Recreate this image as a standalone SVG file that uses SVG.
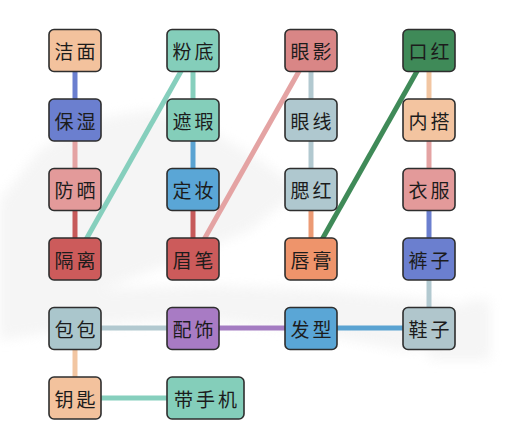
<svg xmlns="http://www.w3.org/2000/svg" width="520" height="429" viewBox="0 0 520 429">
<defs>
<filter id="blur" x="-20%" y="-20%" width="140%" height="140%"><feGaussianBlur stdDeviation="6"/></filter>
<style>
.n rect{stroke:#2e2e2e;stroke-width:1.6}
.n text{font-family:"Noto Sans CJK SC","Noto Sans CJK TC",sans-serif;font-size:19px;fill:#1c1c1c;text-anchor:middle;dominant-baseline:central;letter-spacing:3px}
.c line{stroke-width:5;stroke-linecap:butt}
</style>
</defs>
<rect width="520" height="429" fill="#ffffff"/>
<g id="background" filter="url(#blur)" fill="#f1f1f1" opacity="0.7">
<path d="M0 200 L40 150 L90 120 L150 110 L210 130 L260 160 L300 190 L250 230 L180 260 L100 290 L40 300 L0 300 Z"/>
<path d="M0 300 L80 290 L200 285 L320 290 L430 300 L490 310 L480 345 L400 350 L300 330 L200 320 L100 325 L0 340 Z"/>
<path d="M420 330 L470 300 L490 300 L490 360 L430 360 Z"/>
</g>
<g id="connectors" class="c">
<line x1="75" y1="50" x2="75" y2="120" stroke="#6b7fcf"/>
<line x1="75" y1="120" x2="75" y2="189" stroke="#e4a3a3"/>
<line x1="75" y1="189" x2="75" y2="259" stroke="#c65a5a"/>
<line x1="193" y1="50" x2="193" y2="120" stroke="#86cfbd"/>
<line x1="193" y1="120" x2="193" y2="189" stroke="#5aa3d2"/>
<line x1="193" y1="189" x2="193" y2="259" stroke="#c65a5a"/>
<line x1="193" y1="50" x2="75" y2="259" stroke="#86cfbd"/>
<line x1="311" y1="50" x2="311" y2="120" stroke="#b2c9d0"/>
<line x1="311" y1="120" x2="311" y2="189" stroke="#b2c9d0"/>
<line x1="311" y1="189" x2="311" y2="259" stroke="#ec9a74"/>
<line x1="311" y1="50" x2="193" y2="259" stroke="#e4a3a3"/>
<line x1="429" y1="50" x2="429" y2="120" stroke="#f2c6a2"/>
<line x1="429" y1="120" x2="429" y2="189" stroke="#e4a3a3"/>
<line x1="429" y1="189" x2="429" y2="259" stroke="#6b7fcf"/>
<line x1="429" y1="259" x2="429" y2="328" stroke="#b2c9d0"/>
<line x1="429" y1="50" x2="311" y2="259" stroke="#3f8a58"/>
<line x1="75" y1="328" x2="193" y2="328" stroke="#b2c9d0"/>
<line x1="193" y1="328" x2="311" y2="328" stroke="#a47cc2"/>
<line x1="311" y1="328" x2="429" y2="328" stroke="#5aa3d2"/>
<line x1="75" y1="328" x2="75" y2="398" stroke="#f2c6a2"/>
<line x1="75" y1="398" x2="205" y2="398" stroke="#86cfbd"/>
</g>
<g id="n-jiemian" class="n"><rect x="49" y="29.5" width="52" height="42" rx="5" fill="#f3c29d"/><text x="76.5" y="50.5">洁面</text></g>
<g id="n-baoshi" class="n"><rect x="49" y="99" width="52" height="42" rx="5" fill="#6b7fcf"/><text x="76.5" y="120">保湿</text></g>
<g id="n-fangshai" class="n"><rect x="49" y="168.5" width="52" height="42" rx="5" fill="#e39a9a"/><text x="76.5" y="189.5">防晒</text></g>
<g id="n-geli" class="n"><rect x="49" y="238" width="52" height="42" rx="5" fill="#cc5b5b"/><text x="76.5" y="259">隔离</text></g>
<g id="n-fendi" class="n"><rect x="167" y="29.5" width="52" height="42" rx="5" fill="#84ceba"/><text x="194.5" y="50.5">粉底</text></g>
<g id="n-zhexia" class="n"><rect x="167" y="99" width="52" height="42" rx="5" fill="#84ceba"/><text x="194.5" y="120">遮瑕</text></g>
<g id="n-dingzhuang" class="n"><rect x="167" y="168.5" width="52" height="42" rx="5" fill="#5aa6d6"/><text x="194.5" y="189.5">定妆</text></g>
<g id="n-meibi" class="n"><rect x="167" y="238" width="52" height="42" rx="5" fill="#cc5b5b"/><text x="194.5" y="259">眉笔</text></g>
<g id="n-yanying" class="n"><rect x="285" y="29.5" width="52" height="42" rx="5" fill="#d98686"/><text x="312.5" y="50.5">眼影</text></g>
<g id="n-yanxian" class="n"><rect x="285" y="99" width="52" height="42" rx="5" fill="#afc8cf"/><text x="312.5" y="120">眼线</text></g>
<g id="n-saihong" class="n"><rect x="285" y="168.5" width="52" height="42" rx="5" fill="#afc8cf"/><text x="312.5" y="189.5">腮红</text></g>
<g id="n-chungao" class="n"><rect x="285" y="238" width="52" height="42" rx="5" fill="#ee946b"/><text x="312.5" y="259">唇膏</text></g>
<g id="n-kouhong" class="n"><rect x="403" y="29.5" width="52" height="42" rx="5" fill="#3f8a58"/><text x="430.5" y="50.5">口红</text></g>
<g id="n-neida" class="n"><rect x="403" y="99" width="52" height="42" rx="5" fill="#f3c4a0"/><text x="430.5" y="120">内搭</text></g>
<g id="n-yifu" class="n"><rect x="403" y="168.5" width="52" height="42" rx="5" fill="#e39a9a"/><text x="430.5" y="189.5">衣服</text></g>
<g id="n-kuzi" class="n"><rect x="403" y="238" width="52" height="42" rx="5" fill="#6b7fcf"/><text x="430.5" y="259">裤子</text></g>
<g id="n-baobao" class="n"><rect x="49" y="307.5" width="52" height="42" rx="5" fill="#aac6cc"/><text x="76.5" y="328.5">包包</text></g>
<g id="n-peishi" class="n"><rect x="167" y="307.5" width="52" height="42" rx="5" fill="#a87bc4"/><text x="194.5" y="328.5">配饰</text></g>
<g id="n-faxing" class="n"><rect x="285" y="307.5" width="52" height="42" rx="5" fill="#5aa6d6"/><text x="312.5" y="328.5">发型</text></g>
<g id="n-xiezi" class="n"><rect x="403" y="307.5" width="52" height="42" rx="5" fill="#b0c6cc"/><text x="430.5" y="328.5">鞋子</text></g>
<g id="n-yaoshi" class="n"><rect x="49" y="377" width="52" height="42" rx="5" fill="#f3c29d"/><text x="76.5" y="398">钥匙</text></g>
<g id="n-daishouji" class="n"><rect x="167" y="377" width="77" height="42" rx="5" fill="#84ceba"/><text x="207" y="398">带手机</text></g>
</svg>
